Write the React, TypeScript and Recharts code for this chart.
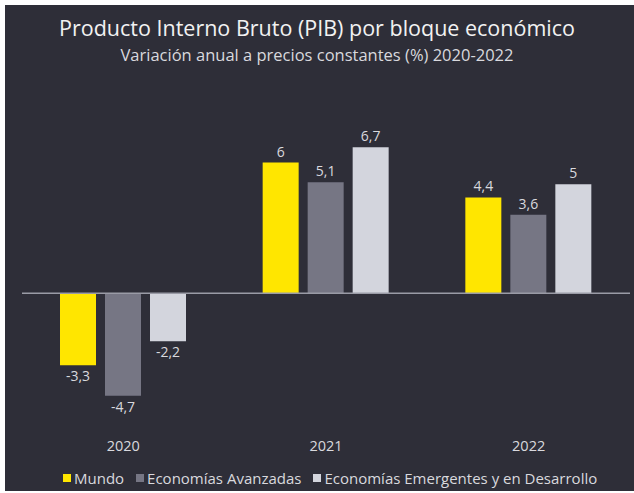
import { BarChart, Bar, XAxis, YAxis, ReferenceLine, LabelList } from "recharts";

const years = ["2020", "2021", "2022"];
const mundo = [-3.3, 6, 4.4];
const avanzadas = [-4.7, 5.1, 3.6];
const emergentes = [-2.2, 6.7, 5];

const seriesNames = ["Mundo", "Economías Avanzadas", "Economías Emergentes y en Desarrollo"];
const seriesKeys = ["mundo", "avanzadas", "emergentes"];
const seriesColors = ["#ffe600", "#767684", "#d3d5dd"];

const data = years.map((y, i) => ({
  year: y,
  mundo: mundo[i],
  avanzadas: avanzadas[i],
  emergentes: emergentes[i],
}));

const BG = "#2e2e38";
const TXT = "#d9d9de";
const FONT = "'Open Sans', sans-serif";

const fmt = (v: number) => String(v).replace(".", ",");

export default function App() {
  return (
    <div style={{ position: "absolute", left: 0, top: 0, width: 634, height: 493, background: "#ffffff", fontFamily: FONT }}>
      <div style={{ position: "absolute", left: 5, top: 5, width: 629, height: 486, background: BG }} />
      <div style={{ position: "absolute", left: 0, top: 16, width: 634, textAlign: "center", color: "#f2f2f2", fontSize: 21.5, lineHeight: "23px" }}>
        Producto Interno Bruto (PIB) por bloque económico
      </div>
      <div style={{ position: "absolute", left: 0, top: 45, width: 634, textAlign: "center", color: TXT, fontSize: 16.5, lineHeight: "19px" }}>
        Variación anual a precios constantes (%) 2020-2022
      </div>
      <div style={{ position: "absolute", left: 0, top: 0 }}>
        <BarChart
          width={634}
          height={493}
          data={data}
          margin={{ top: 119, right: 4, bottom: 39, left: 22 }}
          barSize={36}
          barGap={9}
        >
          <XAxis
            dataKey="year"
            axisLine={false}
            tickLine={false}
            tickSize={0}
            tickMargin={17}
            height={30}
            tick={{ fill: TXT, fontSize: 14.5, fontFamily: FONT }}
          />
          <YAxis hide domain={[-6, 8]} />
          <ReferenceLine y={0} stroke="#9a9ba6" strokeWidth={1.5} />
          {seriesKeys.map((k, i) => (
            <Bar key={k} dataKey={k} name={seriesNames[i]} fill={seriesColors[i]} isAnimationActive={false}>
              <LabelList
                dataKey={k}
                position="top"
                offset={6}
                formatter={(v: number) => fmt(v)}
                style={{ fill: TXT, fontSize: 14, fontFamily: FONT }}
              />
            </Bar>
          ))}
        </BarChart>
      </div>
      <div style={{ position: "absolute", left: 63, top: 469, display: "flex", alignItems: "center", color: TXT, fontSize: 15, lineHeight: "18px", whiteSpace: "nowrap" }}>
        {seriesNames.map((n, i) => (
          <span key={n} style={{ display: "flex", alignItems: "center", marginRight: 12 }}>
            <span style={{ display: "inline-block", width: 8, height: 8, background: seriesColors[i], marginRight: 3 }} />
            {n}
          </span>
        ))}
      </div>
    </div>
  );
}
